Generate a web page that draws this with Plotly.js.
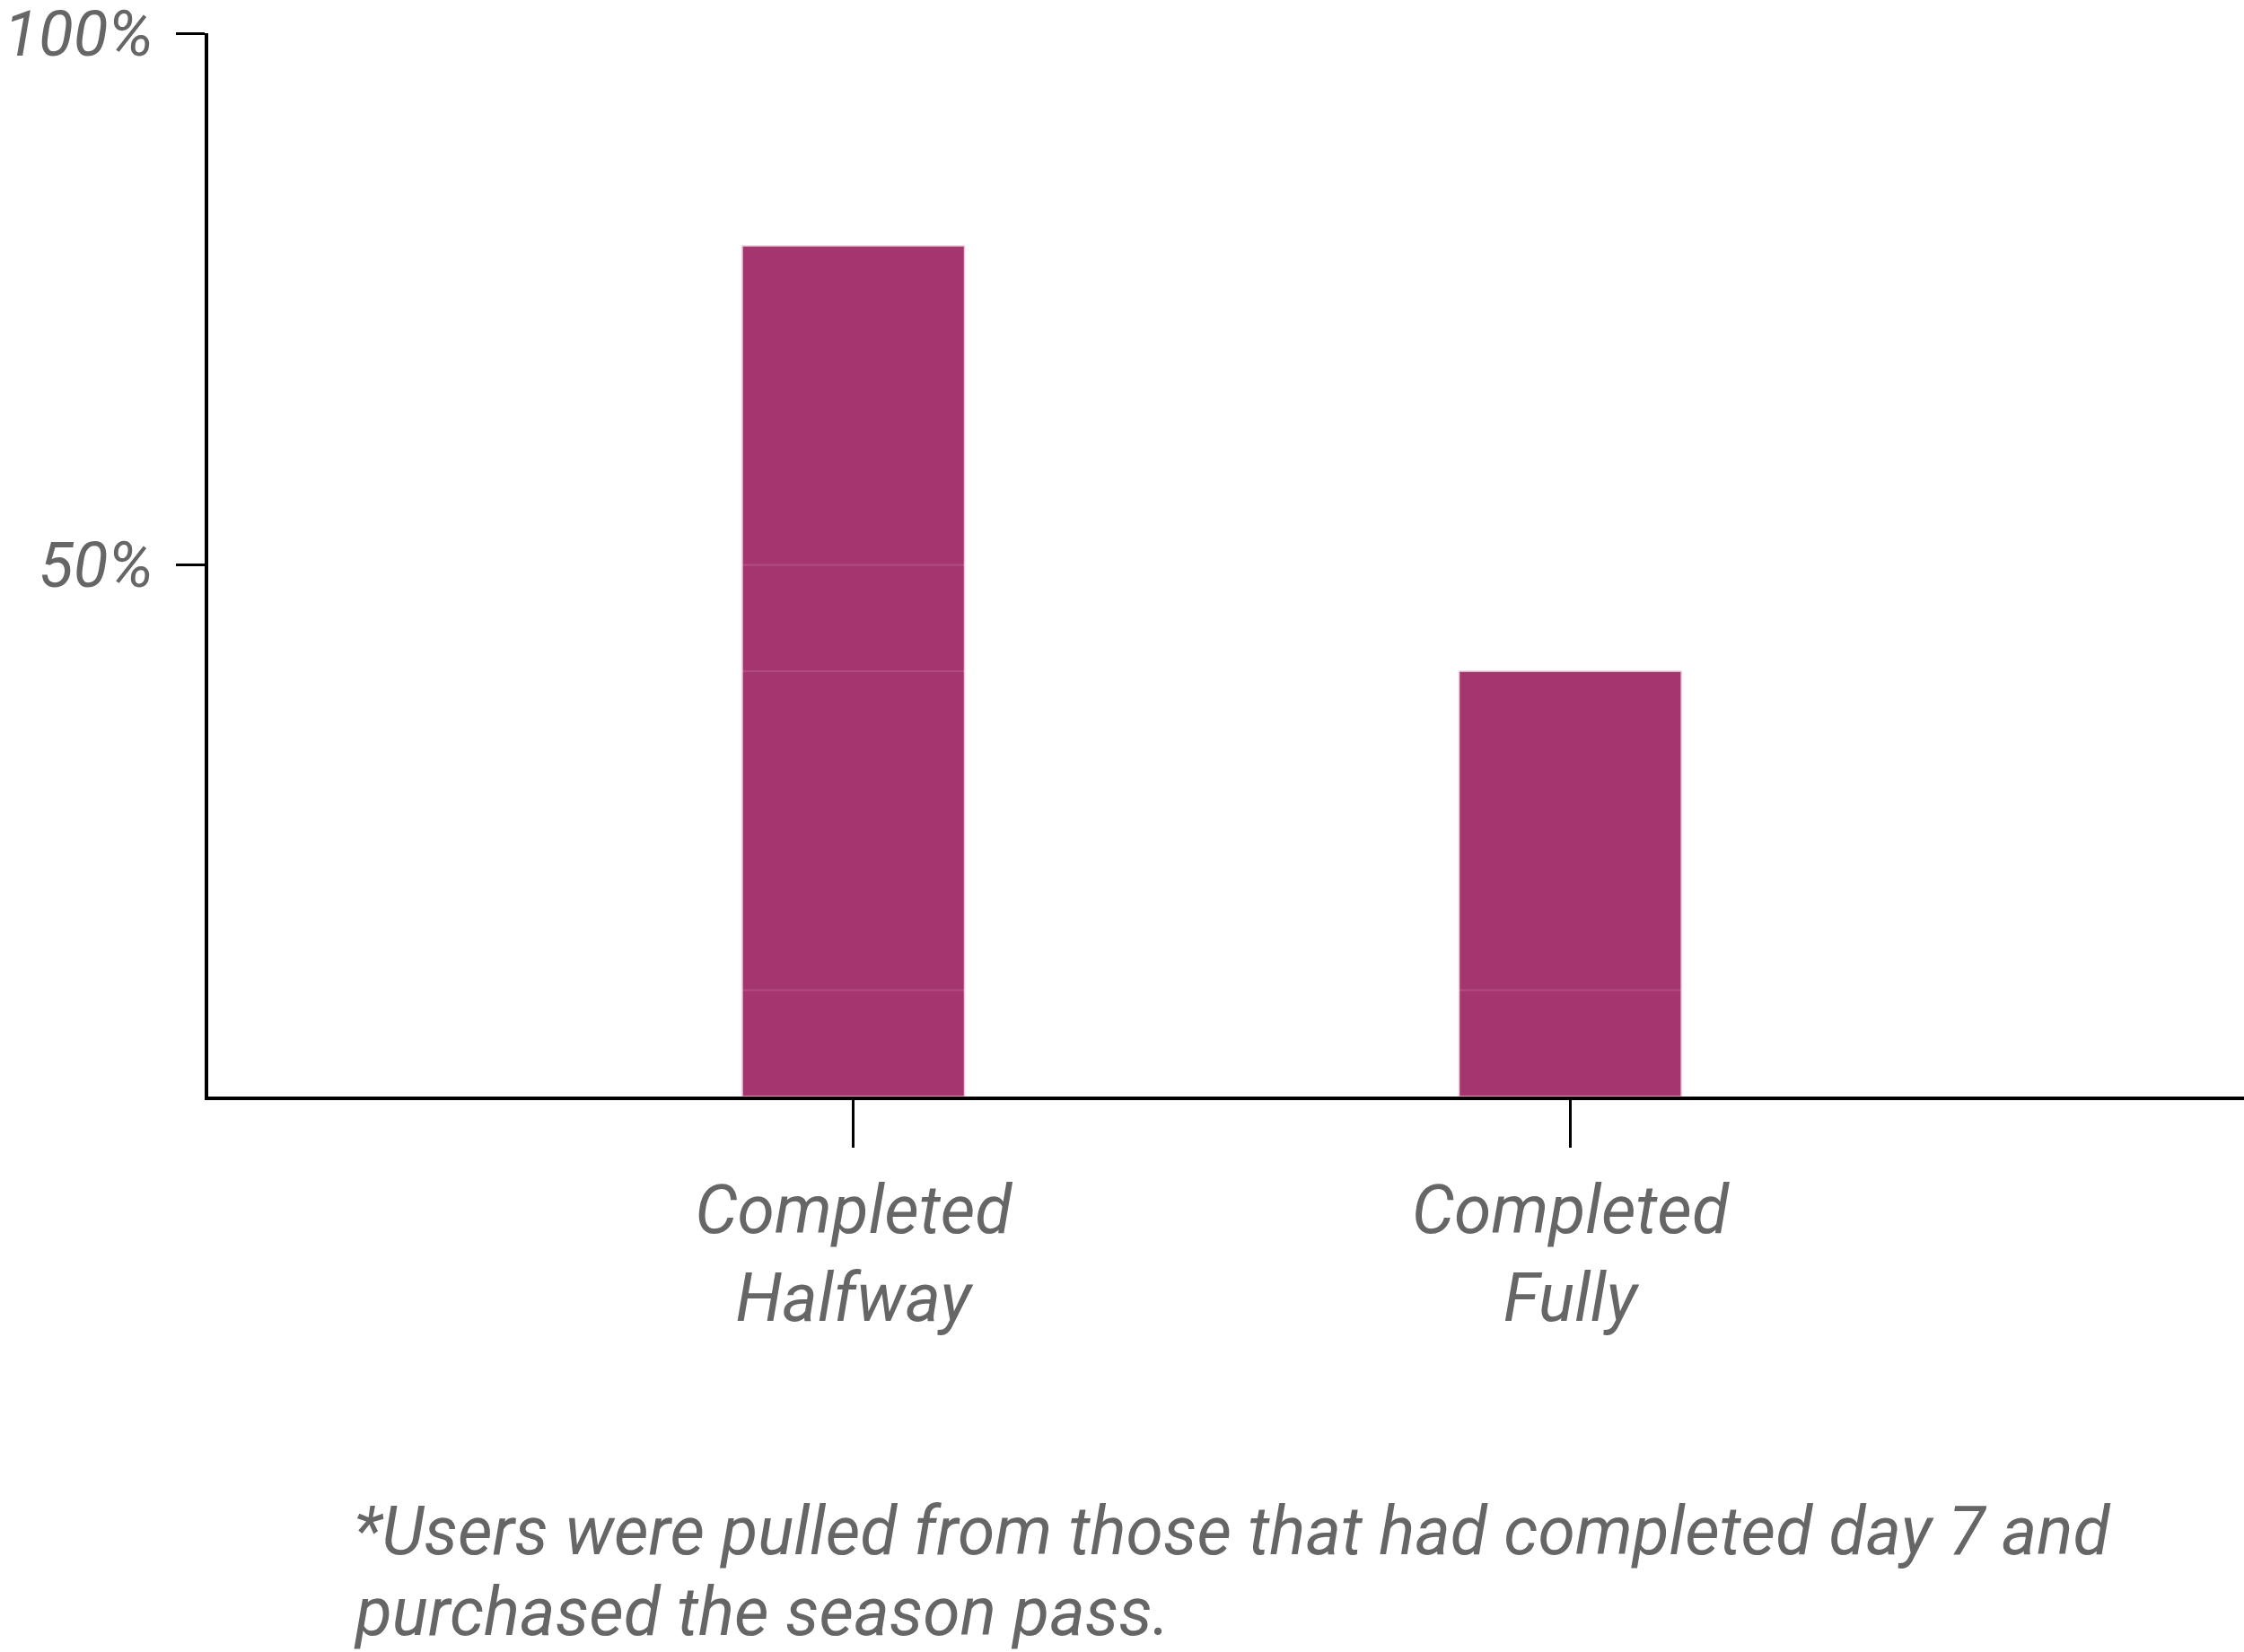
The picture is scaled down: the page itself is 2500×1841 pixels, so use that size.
<!DOCTYPE html>
<html>
<head>
<meta charset="utf-8">
<script src="https://cdn.plot.ly/plotly-3.0.1.min.js"></script>
<style>
html,body{margin:0;padding:0;background:#fff;}
#chart{width:2500px;height:1841px;}
</style>
</head>
<body>
<div id="chart"></div>
<script>
var categories = ["Completed<br>Halfway", "Completed<br>Fully"];
var values = [80, 40];
var yTickVals = [50, 100];
var yTickText = ["50%", "100%"];
var gridLevels = [10, 40, 50];
var footnoteLines = ["*Users were pulled from those that had completed day 7 and", "purchased the season pass."];

var textColor = "#666666";
var fontFam = "Roboto, 'Noto Sans', sans-serif";
var fs = 75;

var trace = {
  type: "bar",
  x: categories,
  y: values,
  marker: {color: "#A5356F", line: {color: "#F2C6DC", width: 1.5}},
  hoverinfo: "skip"
};

var shapes = gridLevels.map(function(v){
  return {type: "line", xref: "paper", yref: "y", x0: 0, x1: 1, y0: v, y1: v,
          layer: "above", line: {color: "rgba(255,255,255,0.12)", width: 2}};
});

var plotH = 1185;
var annTops = [1660, 1750];
var annotations = footnoteLines.map(function(t, i){
  return {
    xref: "paper", yref: "paper",
    x: (392 - 232) / 2268, y: -(annTops[i] - 1222) / plotH,
    xanchor: "left", yanchor: "top", align: "left",
    showarrow: false,
    text: t,
    font: {family: fontFam, color: textColor, size: fs, style: "italic"}
  };
});

var layout = {
  width: 2500, height: 1841,
  margin: {l: 232, r: 0, t: 37, b: 619, pad: 0},
  paper_bgcolor: "#ffffff",
  plot_bgcolor: "#ffffff",
  showlegend: false,
  bargap: 0.69,
  font: {family: fontFam, color: textColor, size: fs, style: "italic"},
  xaxis: {
    type: "category",
    range: [-0.9, 1.94],
    showgrid: false,
    zeroline: false,
    showline: true, linecolor: "#000", linewidth: 4,
    ticks: "outside", ticklen: 53, tickwidth: 3, tickcolor: "#000",
    ticklabelstandoff: 5,
    tickfont: {family: fontFam, color: textColor, size: fs, style: "italic"}
  },
  yaxis: {
    range: [0, 100],
    showgrid: false,
    zeroline: false,
    showline: true, linecolor: "#000", linewidth: 4,
    ticks: "outside", ticklen: 32, tickwidth: 3, tickcolor: "#000",
    tickvals: yTickVals, ticktext: yTickText,
    ticklabelstandoff: 11,
    ticklabeloverflow: "allow",
    tickfont: {family: fontFam, color: textColor, size: 71, style: "italic"}
  },
  shapes: shapes,
  annotations: annotations
};

Plotly.newPlot("chart", [trace], layout, {staticPlot: true, displayModeBar: false});
</script>
</body>
</html>
